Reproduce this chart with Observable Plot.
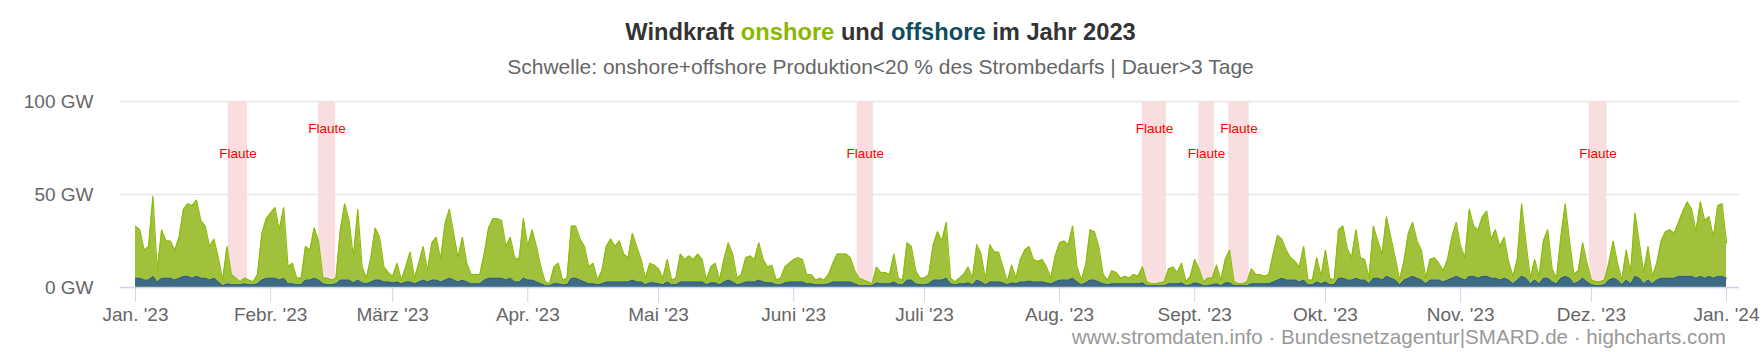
<!DOCTYPE html>
<html><head><meta charset="utf-8">
<script src="https://cdn.jsdelivr.net/npm/d3@7"></script>
<script src="https://cdn.jsdelivr.net/npm/@observablehq/plot@0.6"></script>
<style>
html,body{margin:0;padding:0;background:#fff;}
body{width:1761px;height:352px;position:relative;overflow:hidden;font-family:"Liberation Sans",Arial,sans-serif;}
#title{position:absolute;left:0;width:1761px;top:17px;text-align:center;font-size:23.7px;font-weight:bold;color:#333;line-height:30px;white-space:nowrap}
#subtitle{position:absolute;left:0;width:1761px;top:54px;text-align:center;font-size:21px;color:#666;line-height:26px;white-space:nowrap}
#chart{position:absolute;left:0;top:88px;}
#credits{position:absolute;right:35px;top:325px;font-size:20.6px;color:#999;line-height:24px;white-space:nowrap}
</style></head><body>
<div id="title">Windkraft <span style="color:#8ab800">onshore</span> und <span style="color:#0f4c5f">offshore</span> im Jahr 2023</div>
<div id="subtitle">Schwelle: onshore+offshore Produktion&lt;20 % des Strombedarfs | Dauer&gt;3 Tage</div>
<div id="chart"></div>
<div id="credits">www.stromdaten.info · Bundesnetzagentur|SMARD.de · highcharts.com</div>
<script>
// daily values (GW), starting 2023-01-01
const onshore = [28,26,16,18,43,6,26,20,20,16,22,36,39,39,41,31,28,18,21,13,
3,20,5.5,3.5,1.5,3,2.5,1.5,5,
25,32,35,38,27,38,
9,11,3.5,3.5,
18,16,27,21,
3,3.5,
2.5,3,
27,41,32,13.5,38,8.5,
3,13,28,23,8,5,3.5,
10,2,8,16,3,10,18,6,20,23,12,
30,37,25,13,23,10,5,5,5,
14,27,32,32,31,18,22,13,12,32,18,
27,19,9,2,1,9,11,2.5,3.5,
28,28,22,19,9,11,2.5,7,19,23,19,
22,15,13,25,19,12,3.5,10.5,9.5,8,3.5,12,2.5,3.5,15,12,14,12,15,12,2.5,8.5,10.5,2.5,12,20,
15,3.5,5,13,14,12,20,12,8.5,9.5,2.5,3.5,8.5,10,12,13,12,5,5,2.5,3.5,2.5,5,10,15,15,15,13,7,4,3,2,1,8.5,6,6,5,15,3.5,2.5,20,18,7,3.5,3.5,5,
19,26,21,30,3,1.5,3,5,8.5,3.5,19,15,2.5,20,16,16,8.5,1.5,9.5,3,12,17,18.5,12,11,12,8.5,3,14,20,21,19,28,8,2.5,9.5,27,26,19,5,2.5,7,6,3,4,3,
5,4,8.5,2,1,1,1.5,2,8,9,6,10.5,2,4.5,12.5,8,2,4,3.5,10,3,12.5,17.5,2,1,1,2,8,5,5,4,5,15,24,21,16,12,10,8,18,2.5,2.5,13,4,17,3.5,
2.5,26,28,17,12,26,12,11,3,28,20,14,32,22,12,2.5,10,24,29,20,16,3,11,12,9,6,11,22,29,17,12,36,27,26,32,35,21,26,18,22,10,4,11,39,19,3,
11,4,20,26,7,3,22,39,20,5,6,19,10,2.5,2,2,2.5,9,20,9,2.5,16,6,34,19,6,18,4,9,20,25,26,24,29,35,40,36,25,40,31,32,22,38,39,19];

const offshore = [5,5,4,4,6,3,5,5,5,4,5,6,6,5,6,5,5,4,5,3,
1,2,1.5,1.5,1.5,2,1.5,1.5,2,
4,5,5,5,4,5,
2,2,1.5,1.5,
4,4,5,4,
2,1.5,
1.5,2,
4,4,4,2.5,4,2.5,
2,3,4,4,3,3,2.5,
3,2,3,3,2,3,4,3,4,4,3,
4,5,4,3,4,3,2,2,2,
4,5,5,5,5,4,5,3,3,5,4,
4,3,2,1,1,2,2,1.5,1.5,
5,5,4,3,2,2,1.5,2,3,3,3,
3,3,3,4,3,3,1.5,2.5,2.5,2,1.5,3,1.5,1.5,3,3,3,3,3,3,1.5,2.5,2.5,1.5,3,4,
3,1.5,2,3,3,3,4,3,2.5,2.5,1.5,1.5,2.5,3,3,3,3,2,2,1.5,1.5,1.5,2,3,3,3,3,3,2,1,1,1,1,2.5,2,2,2,3,1.5,1.5,4,4,2,1.5,1.5,2,
4,4,4,5,2,1.5,2,2,2.5,1.5,4,3,1.5,3,3,3,2.5,1.5,2.5,2,3,3,3.5,3,3,3,2.5,2,3,4,4,4,5,3,1.5,2.5,4,4,3,2,1.5,2,2,2,2,2,
2,2,2.5,1,1,1,1,1,2,2,2,2.5,1,1.5,2.5,2,1,1,1.5,2,1,2.5,2.5,1,1,1,1,2,2,2,2,2,3,4,5,4,4,4,3,4,1.5,1.5,3,2,3,1.5,
1.5,5,5,4,4,5,4,4,2,5,5,4,6,5,4,1.5,4,5,6,5,4,2,4,4,4,3,4,5,6,5,4,6,6,5,6,6,5,5,4,5,4,2,4,6,5,2,
4,2,5,5,3,2,5,6,5,2,3,5,3,1.5,1,1,1.5,4,5,4,1.5,4,2,6,5,2,4,2,4,5,5,5,5,6,6,6,6,5,6,5,6,5,6,6,5];

const monthTicks = ["2023-01-01","2023-02-01","2023-03-01","2023-04-01","2023-05-01","2023-06-01","2023-07-01","2023-08-01","2023-09-01","2023-10-01","2023-11-01","2023-12-01","2024-01-01"];
const monthLabels = ["Jan. '23","Febr. '23","März '23","Apr. '23","Mai '23","Juni '23","Juli '23","Aug. '23","Sept. '23","Okt. '23","Nov. '23","Dez. '23","Jan. '24"];
const yTicks = [0, 50, 100];
const flauteStart = ["2023-01-22T07:00Z","2023-02-12T00:00Z","2023-06-15T14:00Z","2023-08-20T00:00Z","2023-09-01T22:00Z","2023-09-08T19:00Z","2023-11-30T12:00Z"];
const flauteEnd   = ["2023-01-26T17:00Z","2023-02-15T22:00Z","2023-06-19T07:00Z","2023-08-25T12:00Z","2023-09-05T12:00Z","2023-09-13T12:00Z","2023-12-04T14:00Z"];
const flauteText = "Flaute";

const DAY = 864e5;
const t0 = Date.UTC(2023, 0, 1);
const rows = [];
onshore.forEach((v, i) => {
  const date = new Date(t0 + i * DAY);
  rows.push({date, type: "offshore", value: offshore[i] ?? 0});
  rows.push({date, type: "onshore", value: v});
});
const bands = flauteStart.map((s, i) => ({start: new Date(s), end: new Date(flauteEnd[i]), i}));
const tickDates = monthTicks.map(s => new Date(s + "T00:00Z"));
const labelByTime = new Map(tickDates.map((d, i) => [+d, monthLabels[i]]));

const chart = Plot.plot({
  width: 1761, height: 232,
  marginTop: 13, marginBottom: 33, marginLeft: 120, marginRight: 22,
  style: {fontFamily: '"Liberation Sans", Arial, sans-serif', fontSize: "19px", background: "transparent", color: "#666", overflow: "visible"},
  x: {type: "utc", domain: [new Date(t0 - 3.44 * DAY), new Date(Date.UTC(2024, 0, 1) + 2.98 * DAY)]},
  y: {domain: [0, 100]},
  color: {domain: ["offshore", "onshore"], range: ["#3d6b83", "#a0c13c"]},
  marks: [
    Plot.gridY(yTicks, {stroke: "#e6e6e6", strokeOpacity: 1, strokeWidth: 1.5}),
    Plot.rect(bands, {x1: "start", x2: "end", y1: 0, y2: 100, fill: "#f8dede"}),
    Plot.areaY(rows, {x: "date", y: "value", fill: "type", order: ["offshore", "onshore"]}),
    Plot.lineY(onshore, {x: (d, i) => new Date(t0 + i * DAY), y: (d, i) => d + (offshore[i] ?? 0), stroke: "#8fbb0c", strokeWidth: 1.2}),
    Plot.lineY(offshore, {x: (d, i) => new Date(t0 + i * DAY), y: d => d, stroke: "#2f5d74", strokeWidth: 1}),
    Plot.ruleY([0], {stroke: "#ccd6eb", strokeWidth: 1.5}),
    Plot.text(bands, {x: d => new Date((+d.start + +d.end) / 2), y: d => d.i % 2 ? 85.5 : 72, text: () => flauteText, fill: "#ff0000", fontSize: 13.5}),
    Plot.axisX({ticks: tickDates, tickFormat: d => labelByTime.get(+d), tickSize: 15, tickPadding: 5, stroke: "#ccd6eb", fill: "#666", label: null}),
    Plot.axisY({ticks: yTicks, tickSize: 0, tickPadding: 27, tickFormat: d => d + " GW", fill: "#666", label: null})
  ]
});
document.getElementById("chart").append(chart);
</script>
</body></html>
